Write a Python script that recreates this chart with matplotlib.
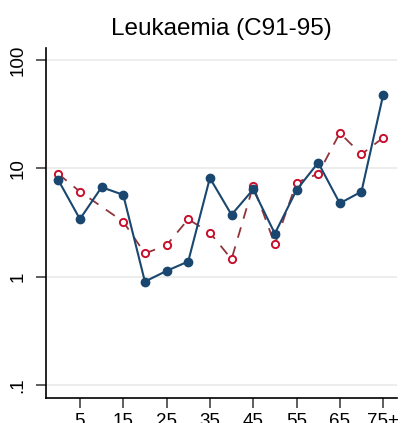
import numpy as np
import matplotlib
matplotlib.use("Agg")
import matplotlib.pyplot as plt
from matplotlib.ticker import FixedLocator, NullLocator

plt.rcParams['font.family'] = ['Liberation Sans', 'DejaVu Sans']

# age groups (lower bound of 5-year band)
ages = [0, 5, 10, 15, 20, 25, 30, 35, 40, 45, 50, 55, 60, 65, 70, 75]
# solid series (filled markers)
blue_vals = [7.8, 3.4, 6.7, 5.7, 0.90, 1.13, 1.38, 8.15, 3.73, 6.4,
             2.5, 6.3, 11.3, 4.76, 6.1, 47.6]
# dashed series (hollow markers); no value at 10
red_vals = [8.9, 6.1, np.nan, 3.22, 1.64, 1.95, 3.39, 2.55, 1.45, 6.9,
            1.99, 7.4, 8.9, 21.2, 13.5, 19.2]

xticks = [5, 15, 25, 35, 45, 55, 65, 75]
xticklabels = ['5', '15', '25', '35', '45', '55', '65', '75+']
yticks = [0.1, 1, 10, 100]
yticklabels = ['.1', '1', '10', '100']

navy = '#1a476f'
maroon = '#90353b'
cran = '#c8102e'

fig = plt.figure(figsize=(4.01, 4.23), dpi=100)
ax = fig.add_axes([0.114, 0.06, 0.876, 0.827])

# red series drawn first, connecting across the missing value
ra = np.array(ages, dtype=float)
rv = np.array(red_vals)
ok = ~np.isnan(rv)
ax.plot(ra[ok], rv[ok], color=maroon, lw=1.3, dashes=(6, 5), zorder=2)
ax.plot(ra[ok], rv[ok], ls='none', marker='o', ms=5.2, mfc='white',
        mec=cran, mew=1.4, zorder=3)

ax.plot(ages, blue_vals, color=navy, lw=1.5, marker='o', ms=6,
        mfc=navy, mec=navy, zorder=4)

ax.set_yscale('log')
ax.set_ylim(0.0763, 130)
ax.set_xlim(-2.9, 78.2)

ax.yaxis.set_major_locator(FixedLocator(yticks))
ax.yaxis.set_minor_locator(NullLocator())
ax.set_yticklabels(yticklabels, rotation=90, va='center', fontsize=13.5)
ax.set_xticks(xticks)
ax.set_xticklabels(xticklabels, fontsize=13.5)

ax.grid(axis='y', color='#eaeaea', lw=1.2, zorder=0)
ax.set_axisbelow(True)

for s in ['top', 'right']:
    ax.spines[s].set_visible(False)
for s in ['left', 'bottom']:
    ax.spines[s].set_linewidth(1.2)
ax.tick_params(axis='both', length=7, width=1.1, color='#333333')
ax.tick_params(axis='y', pad=7)
ax.tick_params(axis='x', pad=4)

ax.set_title('Leukaemia (C91-95)', fontsize=17.5, pad=9)

fig.savefig('out.png', dpi=100)
